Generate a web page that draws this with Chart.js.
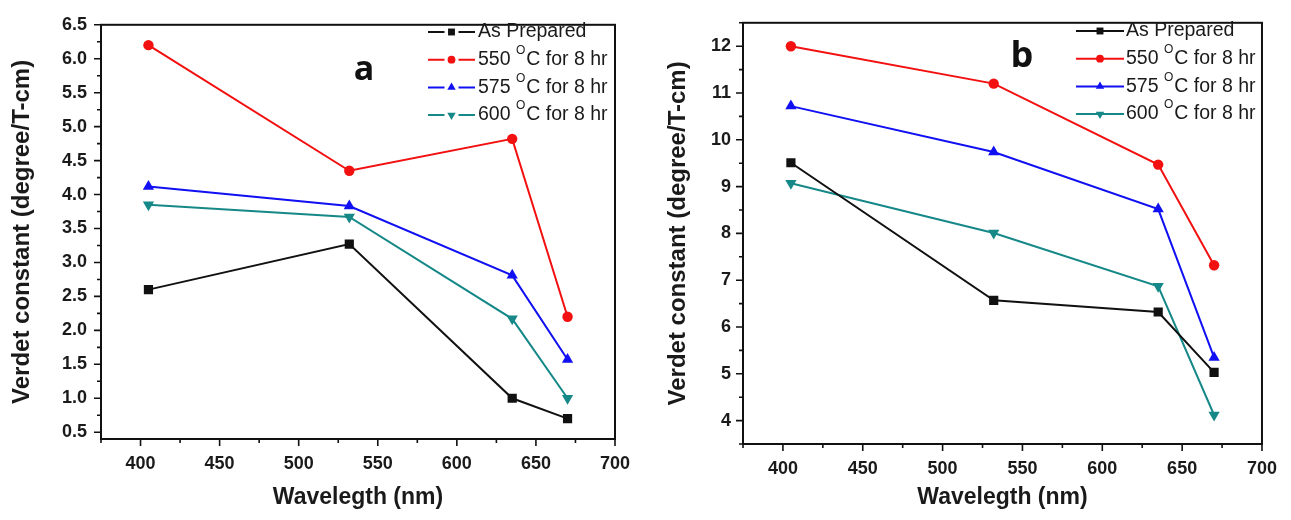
<!DOCTYPE html>
<html>
<head>
<meta charset="utf-8">
<script src="https://cdn.jsdelivr.net/npm/chart.js@4.4.0/dist/chart.umd.min.js"></script>
<style>
  body { margin: 0; background: #fff; }
  #wrap { position: relative; width: 1291px; height: 520px; }
  #chartA { position: absolute; left: 0; top: 0; }
  #chartB { position: absolute; left: 645px; top: 0; }
</style>
</head>
<body>
<div id="wrap">
  <canvas id="chartA" width="645" height="520"></canvas>
  <canvas id="chartB" width="646" height="520"></canvas>
</div>
<script>
// Data
const wavelengths = [405, 532, 635, 670];
const seriesLabels = ['As Prepared', '550 °C for 8 hr', '575 °C for 8 hr', '600 °C for 8 hr'];

// panel a
const asPreparedA = [2.6, 3.27, 1.0, 0.7];
const c550A = [6.2, 4.35, 4.82, 2.2];
const c575A = [4.12, 3.83, 2.81, 1.57];
const c600A = [3.85, 3.67, 2.17, 1.0];

// panel b
const asPreparedB = [9.51, 6.57, 6.32, 5.03];
const c550B = [12.0, 11.2, 9.47, 7.32];
const c575B = [10.72, 9.74, 8.52, 5.35];
const c600B = [9.07, 8.01, 6.87, 4.12];

const xTickValues = [400, 450, 500, 550, 600, 650, 700];
const yTicksA = [0.5, 1.0, 1.5, 2.0, 2.5, 3.0, 3.5, 4.0, 4.5, 5.0, 5.5, 6.0, 6.5];
const yTicksB = [4, 5, 6, 7, 8, 9, 10, 11, 12];

// styles
const colors = ['#111111', '#f21010', '#1010f2', '#168888'];
const pointStyles = ['rect', 'circle', 'triangle', 'triangle'];
const pointRotations = [0, 0, 0, 180];
const pointRadii = [6.5, 5.2, 6.5, 6.5];

function toPoints(values) {
    return values.map((v, i) => ({ x: wavelengths[i], y: v }));
}

function drawMarker(ctx, style, x, y, r, rot) {
    ctx.save();
    ctx.translate(x, y);
    ctx.rotate(rot * Math.PI / 180);
    ctx.beginPath();
    if (style === 'rect') {
        const s = r * Math.SQRT1_2;
        ctx.rect(-s, -s, 2 * s, 2 * s);
    } else if (style === 'circle') {
        ctx.arc(0, 0, r, 0, Math.PI * 2);
    } else {
        ctx.moveTo(0, -r);
        ctx.lineTo(r * 0.866, r * 0.5);
        ctx.lineTo(-r * 0.866, r * 0.5);
        ctx.closePath();
    }
    ctx.fill();
    ctx.restore();
}

// frame around the plot plus major / minor tick marks
const frameTicks = {
    id: 'frameTicks',
    afterDraw(chart, args, opts) {
        const { ctx, chartArea: a, scales: { x, y } } = chart;
        ctx.save();
        ctx.strokeStyle = '#111';
        ctx.lineWidth = 2;
        ctx.strokeRect(a.left, a.top, a.right - a.left, a.bottom - a.top);
        ctx.lineWidth = 1.6;
        ctx.beginPath();
        for (let v = Math.ceil(x.min / opts.xMinor) * opts.xMinor; v <= x.max + 1e-9; v += opts.xMinor) {
            const px = x.getPixelForValue(v);
            const major = Math.abs(v / opts.xMajor - Math.round(v / opts.xMajor)) < 1e-6;
            ctx.moveTo(px, a.bottom);
            ctx.lineTo(px, a.bottom + (major ? 7 : 4));
        }
        for (let v = Math.ceil(y.min / opts.yMinor - 1e-9) * opts.yMinor; v <= y.max + 1e-9; v += opts.yMinor) {
            const py = y.getPixelForValue(v);
            const major = Math.abs(v / opts.yMajor - Math.round(v / opts.yMajor)) < 1e-6;
            ctx.moveTo(a.left, py);
            ctx.lineTo(a.left - (major ? 7 : 4), py);
        }
        ctx.stroke();

        // panel letter
        ctx.fillStyle = '#111';
        ctx.font = 'bold ' + opts.letterSize + 'px "Open Sans"';
        ctx.textAlign = 'center';
        ctx.textBaseline = 'alphabetic';
        ctx.fillText(opts.letter, opts.letterX, opts.letterY);
        ctx.restore();
    }
};

// legend with line + marker samples, drawn inside the plot
const sampleLegend = {
    id: 'sampleLegend',
    afterDraw(chart, args, opts) {
        const ctx = chart.ctx;
        ctx.save();
        chart.data.datasets.forEach((ds, i) => {
            const ry = opts.top + i * opts.step;
            const mid = (opts.x0 + opts.x1) / 2;
            ctx.strokeStyle = ds.borderColor;
            ctx.fillStyle = ds.borderColor;
            ctx.lineWidth = 2;
            ctx.beginPath();
            if (opts.gap) {
                ctx.moveTo(opts.x0, ry); ctx.lineTo(mid - 7, ry);
                ctx.moveTo(mid + 7, ry); ctx.lineTo(opts.x1, ry);
            } else {
                ctx.moveTo(opts.x0, ry); ctx.lineTo(opts.x1, ry);
            }
            ctx.stroke();
            drawMarker(ctx, ds.pointStyle, mid, ry, ds.pointRadius * 0.75, ds.pointRotation);

            // text, with the degree sign drawn as a superscript "O"
            ctx.fillStyle = '#1a1a1a';
            ctx.textBaseline = 'middle';
            ctx.textAlign = 'left';
            const parts = ds.label.split('°');
            let tx = opts.textX;
            ctx.font = '19.5px "Liberation Sans"';
            ctx.fillText(parts[0], tx, ry);
            tx += ctx.measureText(parts[0]).width;
            if (parts.length > 1) {
                ctx.font = '12px "Liberation Sans"';
                ctx.fillText('O', tx, ry - 9);
                tx += ctx.measureText('O').width + 1;
                ctx.font = '19.5px "Liberation Sans"';
                ctx.fillText(parts[1], tx, ry);
            }
        });
        ctx.restore();
    }
};

function buildDatasets(seriesValues) {
    return seriesValues.map((vals, i) => ({
        label: seriesLabels[i],
        data: toPoints(vals),
        borderColor: colors[i],
        backgroundColor: colors[i],
        borderWidth: 2,
        pointStyle: pointStyles[i],
        pointRotation: pointRotations[i],
        pointRadius: pointRadii[i],
        pointBorderWidth: 0,
        tension: 0
    }));
}

function makeChart(canvas, cfg) {
    return new Chart(canvas, {
        type: 'line',
        data: { datasets: buildDatasets(cfg.series) },
        plugins: [frameTicks, sampleLegend],
        options: {
            responsive: false,
            animation: false,
            devicePixelRatio: 1,
            layout: { padding: { left: 0, top: cfg.padTop, right: cfg.padRight, bottom: 0 } },
            plugins: {
                legend: { display: false },
                tooltip: { enabled: false },
                frameTicks: cfg.frame,
                sampleLegend: cfg.legend
            },
            scales: {
                x: {
                    type: 'linear',
                    min: 375,
                    max: 700,
                    afterBuildTicks: (s) => { s.ticks = xTickValues.map(v => ({ value: v })); },
                    afterFit: (s) => { s.height = cfg.xHeight; },
                    grid: { display: false, drawTicks: false, tickLength: 0 },
                    border: { display: false },
                    ticks: {
                        color: '#1a1a1a',
                        font: { family: 'Liberation Sans', size: 18, weight: 'bold' },
                        padding: cfg.xTickPad,
                        maxRotation: 0
                    },
                    title: {
                        display: true,
                        text: 'Wavelegth (nm)',
                        color: '#1a1a1a',
                        font: { family: 'Liberation Sans', size: 23, weight: 'bold' },
                        padding: { top: 0, bottom: 9 }
                    }
                },
                y: {
                    type: 'linear',
                    min: cfg.yMin,
                    max: cfg.yMax,
                    afterBuildTicks: (s) => { s.ticks = cfg.yTicks.map(v => ({ value: v })); },
                    afterFit: (s) => { s.width = cfg.yWidth; },
                    grid: { display: false, drawTicks: false, tickLength: 0 },
                    border: { display: false },
                    ticks: {
                        color: '#1a1a1a',
                        font: { family: 'Liberation Sans', size: 18, weight: 'bold' },
                        padding: cfg.yTickPad,
                        callback: cfg.yFormat
                    },
                    title: {
                        display: true,
                        text: 'Verdet constant (degree/T-cm)',
                        color: '#1a1a1a',
                        font: { family: 'Liberation Sans', size: 24, weight: 'bold' },
                        padding: { top: cfg.yTitlePad, bottom: 0 }
                    }
                }
            }
        }
    });
}

makeChart(document.getElementById('chartA'), {
    series: [asPreparedA, c550A, c575A, c600A],
    yMin: 0.4, yMax: 6.5, yTicks: yTicksA,
    yFormat: (v) => v.toFixed(1),
    padTop: 20, padRight: 30, yWidth: 101, xHeight: 81,
    xTickPad: 14, yTickPad: 14, yTitlePad: 8,
    frame: { xMinor: 25, xMajor: 50, yMinor: 0.25, yMajor: 0.5, letter: 'a', letterSize: 34, letterX: 364, letterY: 80 },
    legend: { x0: 428, x1: 475, textX: 478, top: 32, step: 27.7, gap: true }
});

makeChart(document.getElementById('chartB'), {
    series: [asPreparedB, c550B, c575B, c600B],
    yMin: 3.5, yMax: 12.5, yTicks: yTicksB,
    yFormat: (v) => String(v),
    padTop: 19, padRight: 27, yWidth: 98, xHeight: 76,
    xTickPad: 14, yTickPad: 12, yTitlePad: 19,
    frame: { xMinor: 25, xMajor: 50, yMinor: 0.5, yMajor: 1, letter: 'b', letterSize: 36, letterX: 377, letterY: 67 },
    legend: { x0: 431, x1: 479, textX: 481, top: 31, step: 27.7, gap: false }
});
</script>
</body>
</html>
